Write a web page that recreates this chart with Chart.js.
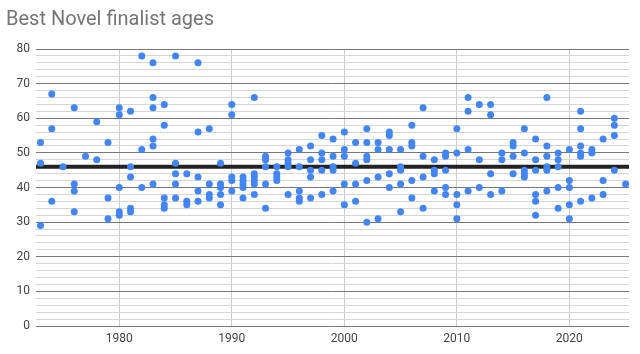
<!DOCTYPE html>
<html>
<head>
<meta charset="utf-8">
<script src="https://cdn.jsdelivr.net/npm/chart.js@4/dist/chart.umd.min.js"></script>
<style>
  html, body { margin: 0; padding: 0; background: #fff; }
  #wrap { width: 640px; height: 354px; }
</style>
</head>
<body>
<div id="wrap"><canvas id="chart"></canvas></div>
<script>
// finalist ages, grouped per award year
const years = [1973, 1974, 1975, 1976, 1977, 1978, 1979, 1980, 1981, 1982,
  1983, 1984, 1985, 1986, 1987, 1988, 1989, 1990, 1991, 1992,
  1993, 1994, 1995, 1996, 1997, 1998, 1999, 2000, 2001, 2002,
  2003, 2004, 2005, 2006, 2007, 2008, 2009, 2010, 2011, 2012,
  2013, 2014, 2015, 2016, 2017, 2018, 2019, 2020, 2021, 2022,
  2023, 2024, 2025];
const agesByYear = [
  [53, 47, 29], [67, 57, 36], [46], [63, 41, 39, 33], [49],
  [59, 48], [53, 37, 31], [63, 61, 40, 33, 32], [62, 46, 43, 34, 33], [78, 51, 40],
  [76, 66, 63, 54, 52, 41], [64, 58, 37, 35, 34], [78, 47, 44, 41, 37], [44, 36, 35], [76, 56, 43, 39, 36],
  [57, 41, 38, 37], [47, 41, 40, 38, 35], [64, 61, 43, 42, 39], [43, 42, 41, 40, 37], [66, 44, 43, 42, 41, 38],
  [49, 48, 46, 41, 34], [46, 44, 43, 42], [50, 48, 47, 46, 38], [51, 46, 39, 37, 36], [52, 48, 45, 43, 37],
  [55, 50, 48, 45, 38], [54, 49, 46, 45, 39], [56, 51, 49, 41, 35], [53, 47, 41, 36], [57, 53, 49, 48, 42, 30],
  [53, 51, 43, 31], [56, 55, 51, 44, 40], [51, 46, 45, 41, 33], [58, 53, 52, 42, 37], [63, 49, 43, 34],
  [48, 45, 44, 39], [50, 49, 45, 40, 38], [57, 50, 38, 35, 31], [66, 62, 51, 39], [64, 48, 40],
  [64, 61, 44, 38], [50, 48, 39], [53, 52, 49, 44], [57, 50, 45, 44, 43], [54, 48, 45, 38, 36, 32],
  [66, 52, 49, 46, 45, 39], [50, 48, 46, 40, 34], [51, 42, 40, 35, 31], [62, 57, 52, 50, 49, 36], [51, 50, 37],
  [54, 42, 38], [60, 58, 55, 45], [41]
];
const averageAge = 46;
const xTickYears = [1980, 1990, 2000, 2010, 2020];
const xMin = 1972.6, xMax = 2025.3;

const points = [];
years.forEach((yr, i) => {
  agesByYear[i].forEach(a => points.push({ x: yr, y: a }));
});

new Chart(document.getElementById('chart'), {
  type: 'scatter',
  data: {
    datasets: [{
      label: 'Age',
      data: points,
      backgroundColor: '#4285f4',
      borderWidth: 0,
      pointRadius: 3.5,
      order: 0
    }, {
      type: 'line',
      label: 'Average',
      data: [{ x: xMin, y: averageAge }, { x: xMax, y: averageAge }],
      borderColor: '#222222',
      borderWidth: 4,
      pointRadius: 0,
      fill: false,
      order: 1
    }]
  },
  options: {
    responsive: true,
    maintainAspectRatio: false,
    animation: false,
    layout: { padding: { left: 6, right: 11, top: 0, bottom: 0 } },
    scales: {
      x: {
        type: 'linear',
        min: xMin,
        max: xMax,
        afterBuildTicks: (scale) => {
          scale.ticks = xTickYears.map(v => ({ value: v }));
        },
        afterFit: (scale) => { scale.height = 28; },
        border: { display: false },
        grid: { color: '#cccccc', drawTicks: false },
        ticks: {
          color: '#444444',
          font: { family: 'Roboto', size: 12 },
          padding: 6,
          maxRotation: 0,
          callback: (v) => String(v)
        }
      },
      y: {
        min: 0,
        max: 80,
        afterFit: (scale) => { scale.width = 30; },
        border: { display: false },
        grid: {
          drawTicks: false,
          color: (ctx) => (ctx.tick && ctx.tick.value % 10 === 0) ? '#777777' : '#d6d6d6'
        },
        ticks: {
          stepSize: 2,
          autoSkip: false,
          color: '#444444',
          font: { family: 'Roboto', size: 12 },
          padding: 6,
          callback: (v) => (v % 10 === 0 ? String(v) : '')
        }
      }
    },
    plugins: {
      legend: { display: false },
      tooltip: { enabled: false },
      title: {
        display: true,
        text: 'Best Novel finalist ages',
        align: 'start',
        color: '#757575',
        font: { family: 'Roboto', size: 20, weight: 'normal' },
        padding: { top: 8, bottom: 17 }
      }
    }
  }
});
</script>
</body>
</html>
